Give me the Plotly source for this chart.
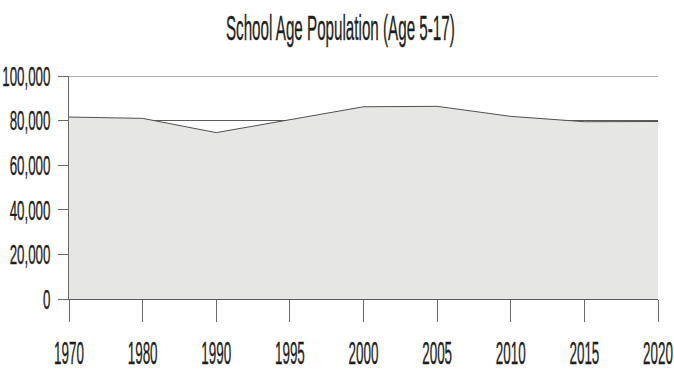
import plotly.graph_objects as go

# School-age population (ages 5-17) by year
years = ["1970", "1980", "1990", "1995", "2000", "2005", "2010", "2015", "2020"]
population = [81600, 81000, 74600, 80400, 86200, 86400, 81900, 79500, 79600]
y_ticks = [0, 20000, 40000, 60000, 80000, 100000]
y_tick_labels = ["0", "20,000", "40,000", "60,000", "80,000", "100,000"]

FONT = "Liberation Sans, Arial, sans-serif"
INK = "#1e1e1e"
AXIS = "#5a5a5a"

fig = go.Figure()
fig.add_trace(go.Scatter(
    x=years,
    y=population,
    mode="lines",
    line=dict(color="#505050", width=1),
    fill="tozeroy",
    fillcolor="#e6e6e4",
    hoverinfo="skip",
    showlegend=False,
))

# top rule at the 100,000 level
fig.add_shape(
    type="line", xref="paper", yref="y",
    x0=0, x1=1, y0=y_ticks[-1], y1=y_ticks[-1],
    line=dict(color=AXIS, width=1),
)

fig.update_layout(
    width=674,
    height=371,
    margin=dict(l=69, r=16, t=76, b=72),
    paper_bgcolor="white",
    plot_bgcolor="white",
    title=dict(
        text="School Age Population (Age 5-17)",
        x=0.505,
        xanchor="center",
        y=0.925,
        yanchor="middle",
        font=dict(family=FONT, size=35, color=INK),
    ),
    font=dict(family=FONT, color=INK),
)

fig.update_xaxes(
    type="category",
    range=[0, len(years) - 1],
    automargin=False,
    showgrid=False,
    showline=True,
    linecolor=AXIS,
    linewidth=1,
    ticks="outside",
    ticklen=22,
    tickcolor="#6a6a6a",
    tickwidth=1,
    ticklabelstandoff=4,
    tickfont=dict(family=FONT, size=32, color=INK),
    zeroline=False,
)

fig.update_yaxes(
    range=[0, 100000],
    automargin=False,
    tickvals=y_ticks,
    ticktext=y_tick_labels,
    showgrid=True,
    gridcolor=AXIS,
    gridwidth=1,
    showline=True,
    linecolor="#6a6a6a",
    linewidth=1,
    ticks="outside",
    ticklen=10,
    tickcolor="#6a6a6a",
    ticklabelstandoff=2,
    tickfont=dict(family=FONT, size=28, color=INK),
    zeroline=False,
)

# Narrow the lettering horizontally (condensed face) while keeping it as SVG text
condense_js = """
var gd = document.getElementById('{plot_id}');
function squeeze(sel, f) {
  gd.querySelectorAll(sel).forEach(function (t) {
    var w = t.getComputedTextLength();
    t.setAttribute('lengthAdjust', 'spacingAndGlyphs');
    t.setAttribute('textLength', (w * f).toFixed(1));
    t.style.stroke = '#1e1e1e';
    t.style.strokeWidth = '0.35px';
  });
}
squeeze('g.xtick text', 0.42);
squeeze('g.ytick text', 0.475);
squeeze('text.gtitle', 0.434);
"""

fig.write_html("out.html", post_script=condense_js)
